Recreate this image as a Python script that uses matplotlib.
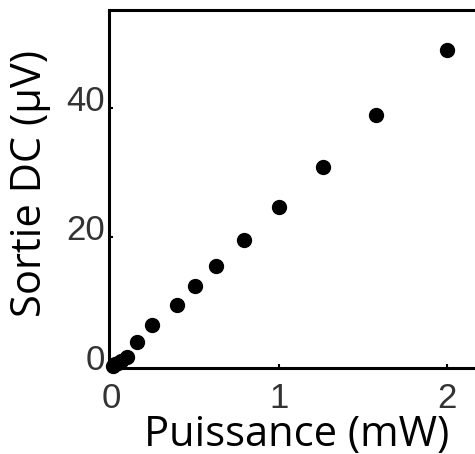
import matplotlib
matplotlib.use('Agg')
import matplotlib.pyplot as plt
import matplotlib.transforms as mtransforms

# puissance (mW) et sortie DC (uV)
puissance = [2.0, 1.58, 1.26, 1.0, 0.79, 0.625, 0.5, 0.39, 0.245, 0.155, 0.095, 0.06, 0.04, 0.025, 0.012]
sortie = [49.0, 38.9, 30.9, 24.7, 19.6, 15.6, 12.5, 9.6, 6.5, 3.9, 1.6, 1.0, 0.7, 0.4, 0.2]

xticks = [0, 1, 2]
yticks = [0, 20, 40]

fig = plt.figure(figsize=(4.75, 4.54), dpi=100)
ax = fig.add_axes([0.2295, 0.1894, 0.782, 0.7885])

ax.plot(puissance, sortie, 'o', color='black', markersize=10, clip_on=False)

ax.set_xlim(-0.012, 2.2)
ax.set_ylim(-0.15, 55.1)
ax.set_xticks(xticks)
ax.set_yticks(yticks)

for s in ax.spines.values():
    s.set_linewidth(2.2)
ax.tick_params(direction='in', length=3, width=1.5, labelsize=25,
               labelcolor='#333333')
ax.tick_params(axis='x', pad=10)
ax.tick_params(axis='y', pad=3)

# labels des ticks y un peu au-dessus du tick
shift = mtransforms.ScaledTranslation(0, 10 / 100, fig.dpi_scale_trans)
for lab in ax.get_yticklabels():
    lab.set_family('Liberation Sans')
    lab.set_transform(lab.get_transform() + shift)
for lab in ax.get_xticklabels():
    lab.set_family('Liberation Sans')

ax.set_xlabel('Puissance (mW)', fontsize=30, family='Open Sans', weight='medium')
ax.set_ylabel('Sortie DC (µV)', fontsize=30, family='Open Sans', weight='medium')
ax.xaxis.set_label_coords(0.505, -0.128)
ax.yaxis.set_label_coords(-0.155, 0.515)

fig.savefig('out.png', dpi=100)
